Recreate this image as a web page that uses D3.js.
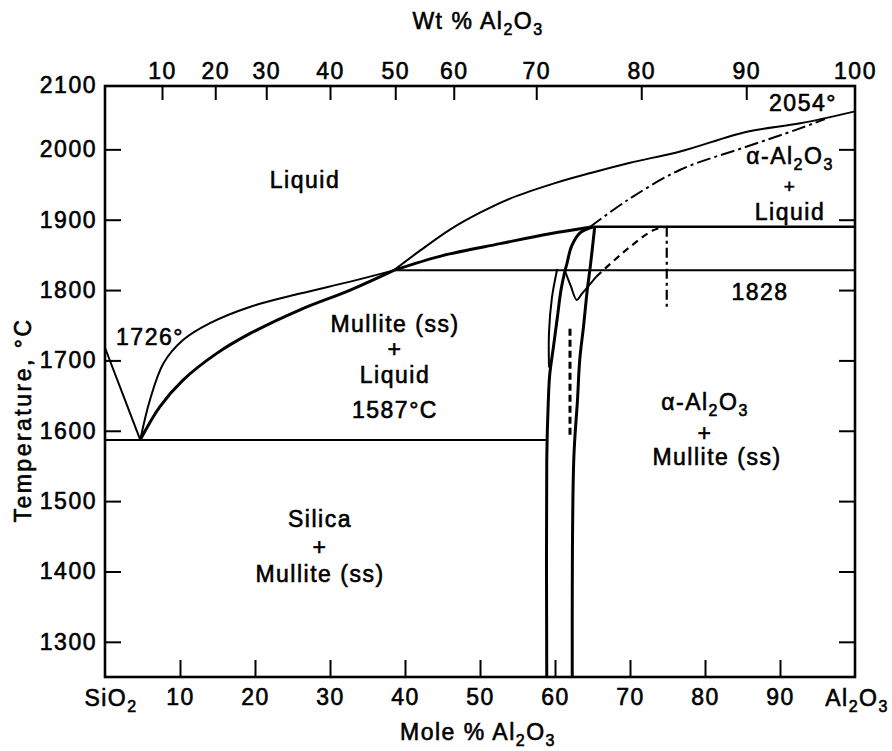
<!DOCTYPE html>
<html>
<head>
<meta charset="utf-8">
<script src="https://cdn.jsdelivr.net/npm/d3@7"></script>
<style>
  body { margin: 0; background: #fff; }
  text { font-family: "Liberation Sans", Arial, sans-serif; fill: #000; }
</style>
</head>
<body>
<svg id="chart" width="892" height="751"></svg>
<script>
// ---- data (mole % Al2O3, temperature in deg C) ----
var moleTicks = [10, 20, 30, 40, 50, 60, 70, 80, 90];
var tempTicks = [1300, 1400, 1500, 1600, 1700, 1800, 1900, 2000, 2100];
var wtLabels = [10, 20, 30, 40, 50, 60, 70, 80, 90, 100];
var wtAtMole = [7.6, 14.7, 21.5, 30, 38.7, 46.5, 57.5, 71.5, 85.5, 100];

var silicaLiquidus = [[0, 1718], [4.7, 1587]];
var mulliteLiquidusUpper = [[4.7, 1587], [6.0, 1644], [7.8, 1696], [10.4, 1729], [14.0, 1753],
  [19.3, 1776], [26, 1795], [32.7, 1812], [38.5, 1828]];
var mulliteLiquidusLower = [[4.7, 1587], [7.3, 1634], [10.4, 1672], [14.9, 1710], [19.3, 1738],
  [26, 1772], [32.7, 1800], [38.5, 1828]];
var mulliteLiquidusHigh = [[38.5, 1828], [45, 1849], [52.7, 1866], [59.3, 1880], [65.1, 1890]];
var aluminaLiquidus = [[38.5, 1828], [42, 1856], [46, 1886], [50, 1910], [54, 1930], [60, 1952],
  [65, 1967], [70, 1981], [76.7, 1997], [85.6, 2025], [92.7, 2037], [100, 2054]];
var aluminaLiquidusMeta = [[64.7, 1890], [69.7, 1928], [76.7, 1971], [85.6, 2004], [92.2, 2028], [96, 2043]];
var mulliteLeft = [[65.1, 1890], [63.3, 1881], [62.2, 1862], [61.6, 1838], [61.3, 1826], [60.8, 1800],
  [60.3, 1760], [59.8, 1720], [59.3, 1680], [59.1, 1640], [58.9, 1558], [58.9, 1250]];
var mulliteLeftThin = [[60.3, 1830], [59.6, 1790], [59.2, 1740], [59.2, 1690]];
var mulliteRight = [[65.3, 1890], [64.7, 1833], [64.3, 1800], [63.8, 1748], [63.3, 1701],
  [63.0, 1644], [62.5, 1558], [62.3, 1250]];
var metaV = [[61.3, 1828], [62.1, 1806], [62.9, 1786], [63.6, 1795], [64.4, 1805], [65.5, 1819]];
var metaDashed = [[65.5, 1819], [69.5, 1857], [73.1, 1885], [74.9, 1890]];
var metaVertical = [[74.9, 1890], [74.9, 1776]];
var innerDashed = [[62.0, 1745], [62.0, 1590]];
var eutecticLine = [[0, 1587], [58.9, 1587]];
var monotecticLine = [[38.5, 1828], [100, 1828]];
var peritecticLine = [[65.1, 1890], [100, 1890]];

// ---- layout ----
var svg = d3.select("#chart");
var plotLeft = 105, plotRight = 855, plotTop = 86, plotBottom = 677;
var fontSize = 23, spacing = 1.5, ink = 0.6;

var x = d3.scaleLinear().domain([0, 100]).range([plotLeft, plotRight]);
var y = d3.scaleLinear().domain([1250, 2100]).range([plotBottom, 79]);

var line = d3.line()
  .x(function(d) { return x(d[0]); })
  .y(function(d) { return y(d[1]); })
  .curve(d3.curveCatmullRom.alpha(0.5));

var straight = d3.line()
  .x(function(d) { return x(d[0]); })
  .y(function(d) { return y(d[1]); });

function styleText(sel, size) {
  sel.style("font-family", "Liberation Sans, Arial, sans-serif")
    .style("font-size", (size || fontSize) + "px")
    .style("letter-spacing", spacing + "px")
    .attr("fill", "#000")
    .attr("stroke", "#000").attr("stroke-width", ink);
}

// axes
var bottomAxis = svg.append("g")
  .attr("transform", "translate(0," + plotBottom + ")")
  .call(d3.axisBottom(x).tickValues(moleTicks).tickSizeInner(-17).tickSizeOuter(0).tickPadding(12));

var leftAxis = svg.append("g")
  .attr("transform", "translate(" + plotLeft + ",0)")
  .call(d3.axisLeft(y).tickValues(tempTicks).tickFormat(d3.format("d"))
    .tickSizeInner(-16).tickSizeOuter(0).tickPadding(8));

var rightAxis = svg.append("g")
  .attr("transform", "translate(" + plotRight + ",0)")
  .call(d3.axisRight(y).tickValues(tempTicks.slice(0, 8)).tickSizeInner(-16).tickSizeOuter(0).tickFormat(""));

var topAxis = svg.append("g")
  .attr("transform", "translate(0," + plotTop + ")")
  .call(d3.axisTop(x).tickValues(wtAtMole)
    .tickFormat(function(d, i) { return wtLabels[i]; })
    .tickSizeInner(-14).tickSizeOuter(0).tickPadding(7));

[bottomAxis, leftAxis, rightAxis, topAxis].forEach(function(g) {
  g.select(".domain").remove();
  g.selectAll(".tick line").attr("stroke", "#000").attr("stroke-width", 2);
  styleText(g.selectAll(".tick text"));
});

// the 2100 label sits on the frame corner, without a tick mark
leftAxis.selectAll(".tick").filter(function(d) { return d === 2100; })
  .attr("transform", "translate(0," + plotTop + ")")
  .select("line").remove();
topAxis.selectAll(".tick").filter(function(d) { return d === 100; })
  .select("line").remove();

// frame
svg.append("rect")
  .attr("x", plotLeft).attr("y", plotTop)
  .attr("width", plotRight - plotLeft).attr("height", plotBottom - plotTop)
  .attr("fill", "none").attr("stroke", "#000").attr("stroke-width", 2.6);

// phase boundaries
function draw(data, w, dash, gen) {
  svg.append("path")
    .datum(data)
    .attr("d", (gen || line))
    .attr("fill", "none")
    .attr("stroke", "#000")
    .attr("stroke-width", w)
    .attr("stroke-linejoin", "round")
    .attr("stroke-dasharray", dash || null);
}

draw(eutecticLine, 2, null, straight);
draw(monotecticLine, 2, null, straight);
draw(peritecticLine, 2.6, null, straight);
draw(silicaLiquidus, 2, null, straight);
draw(mulliteLiquidusUpper, 2);
draw(mulliteLiquidusLower, 3);
draw(mulliteLiquidusHigh, 3);
draw(aluminaLiquidus, 2);
draw(aluminaLiquidusMeta, 2, "14,4,3,4");
draw(mulliteLeft, 3);
draw(mulliteLeftThin, 2);
draw(mulliteRight, 3);
draw(metaV, 2);
draw(metaDashed, 2.2, "7,5");
draw(metaVertical, 2.2, "10,4,3,4", straight);
draw(innerDashed, 3, "7,4", straight);

// labels
function label(tx, ty, str, size) {
  var t = svg.append("text")
    .attr("x", tx).attr("y", ty)
    .attr("text-anchor", "middle")
    .text(str);
  styleText(t, size);
  return t;
}

// chemical formula with subscripts
function formula(tx, ty, prefix, symbol, size) {
  var t = svg.append("text")
    .attr("x", tx).attr("y", ty)
    .attr("text-anchor", "middle");
  styleText(t, size);
  var sub = Math.round((size || fontSize) * 0.68) + "px";
  if (symbol === "SiO2") {
    t.append("tspan").text(prefix + "SiO");
    t.append("tspan").attr("dy", 6).style("font-size", sub).text("2");
  } else {
    t.append("tspan").text(prefix + "Al");
    t.append("tspan").attr("dy", 6).style("font-size", sub).text("2");
    t.append("tspan").attr("dy", -6).text("O");
    t.append("tspan").attr("dy", 6).style("font-size", sub).text("3");
  }
  return t;
}

formula(478, 29, "Wt % ", "Al2O3");
formula(478, 740, "Mole % ", "Al2O3");
formula(857, 706, "", "Al2O3");
formula(111, 706, "", "SiO2");

var yTitle = svg.append("text")
  .attr("transform", "translate(31,420) rotate(-90)")
  .attr("text-anchor", "middle")
  .text("Temperature, °C");
styleText(yTitle);
yTitle.style("letter-spacing", "2.5px");

label(305, 188, "Liquid");
label(150, 345, "1726°");
label(395, 332, "Mullite (ss)");
label(395, 357, "+");
label(395, 383, "Liquid");
label(395, 418, "1587°C");
label(803, 111, "2054°");
formula(790, 164, "α-", "Al2O3");
label(790, 193, "+", 19);
label(790, 220, "Liquid");
label(760, 300, "1828");
formula(705, 410, "α-", "Al2O3");
label(705, 441, "+");
label(717, 465, "Mullite (ss)");
label(320, 527, "Silica");
label(320, 555, "+");
label(320, 582, "Mullite (ss)");
</script>
</body>
</html>
